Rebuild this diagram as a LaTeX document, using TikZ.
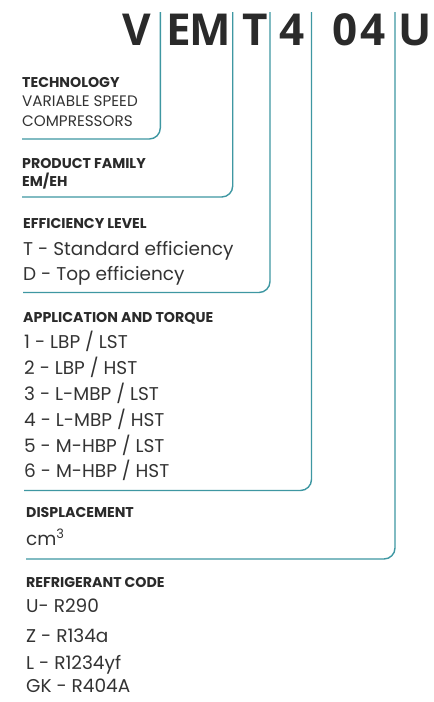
\documentclass[tikz,border=0pt]{standalone}
\usepackage{fontspec}
\setmainfont{Poppins}
\newfontfamily\titlefont{Open Sans}
\definecolor{teal1}{HTML}{3E97A2}
\definecolor{ink}{HTML}{2A2A2A}
\definecolor{inkl}{HTML}{333333}
\tikzset{
  hdr/.style={anchor=base west, inner sep=0pt, text=ink, font=\bfseries\fontsize{14.2}{15}\selectfont},
  sub/.style={anchor=base west, inner sep=0pt, text=inkl, font=\fontsize{15.2}{16}\selectfont},
  item/.style={anchor=base west, inner sep=0pt, text=inkl, font=\fontsize{18.5}{20}\selectfont},
  ltr/.style={anchor=base, inner sep=0pt, text=ink, font=\titlefont\bfseries\fontsize{44}{44}\selectfont},
  bracket/.style={draw=teal1, line width=1.4pt, rounded corners=11pt}
}
\begin{document}
\begin{tikzpicture}[x=1pt,y=-1pt]
\useasboundingbox (0,0) rectangle (434,702);
% title letters
\node[ltr] (lV) at (137,45) {V};
\node[ltr] (lE) at (179,45) {E};
\node[ltr] (lM) at (210,45) {M};
\node[ltr] (lT) at (255,45) {T};
\node[ltr] (l4) at (292,45) {4};
\node[ltr] (l0) at (345,45) {0};
\node[ltr] (l4b) at (373,45) {4};
\node[ltr] (lU) at (415,45) {U};
% line tops and ends
\coordinate (t1) at (160.3,12);
\coordinate (t2) at (232.7,12);
\coordinate (t3) at (270,12);
\coordinate (t4) at (311.5,12);
\coordinate (t5) at (395,12);
\coordinate (e1) at (22,139);
\coordinate (e2) at (22,197);
\coordinate (e3) at (23,292.5);
\coordinate (e4) at (24,490.5);
\coordinate (e5) at (26,559);
\draw[bracket] (t1) |- (e1);
\draw[bracket] (t2) |- (e2);
\draw[bracket] (t3) |- (e3);
\draw[bracket] (t4) |- (e4);
\draw[bracket] (t5) |- (e5);
% texts
\node[hdr] (h1) at (22,87) {TECHNOLOGY};
\node[sub] (s1a) at (22,106) {VARIABLE SPEED};
\node[sub] (s1b) at (22,126) {COMPRESSORS};
\node[hdr] (h2) at (22,168) {PRODUCT FAMILY};
\node[hdr] (s2) at (22,186) {EM/EH};
\node[hdr] (h3) at (23,228) {EFFICIENCY LEVEL};
\node[item] (i3a) at (23,255) {T - Standard efficiency};
\node[item] (i3b) at (23,280) {D - Top efficiency};
\node[hdr] (h4) at (23,322) {APPLICATION AND TORQUE};
\node[item] (i4a) at (24,348) {1 - LBP / LST};
\node[item] (i4b) at (24,374) {2 - LBP / HST};
\node[item] (i4c) at (24,400) {3 - L-MBP / LST};
\node[item] (i4d) at (24,426) {4 - L-MBP / HST};
\node[item] (i4e) at (24,452) {5 - M-HBP / LST};
\node[item] (i4f) at (24,477) {6 - M-HBP / HST};
\node[hdr] (h5) at (26,517) {DISPLACEMENT};
\node[item] (i5) at (26,545) {cm\textsuperscript{3}};
\node[hdr] (h6) at (26,587) {REFRIGERANT CODE};
\node[item] (i6a) at (26,612) {U- R290};
\node[item] (i6b) at (26,642) {Z - R134a};
\node[item] (i6c) at (26,669) {L - R1234yf};
\node[item] (i6d) at (26,692) {GK - R404A};
\end{tikzpicture}
\end{document}
